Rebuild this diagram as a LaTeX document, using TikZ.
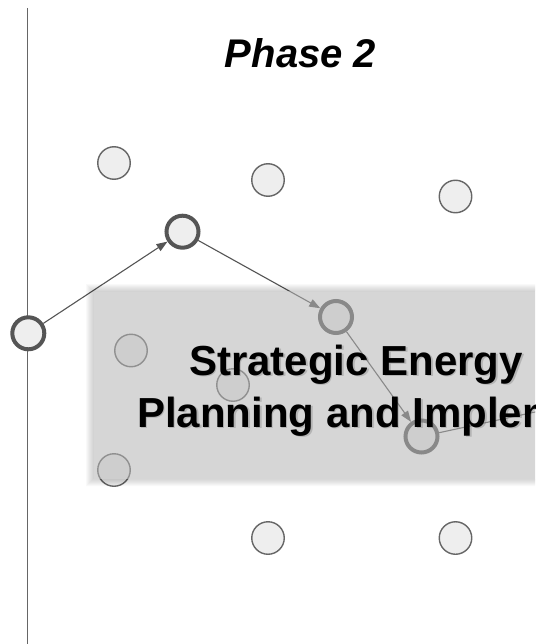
\documentclass[tikz,border=0pt]{standalone}
\usepackage{fontspec}
\setmainfont{Liberation Sans}
\usetikzlibrary{arrows.meta}
\definecolor{ln}{HTML}{666666}
\definecolor{dk}{HTML}{555555}
\definecolor{cf}{HTML}{EEEEEE}
\definecolor{bx}{HTML}{B4B4B4}
\begin{document}
\begin{tikzpicture}[x=1pt,y=-1pt,
  dot/.style={circle,draw=ln,fill=cf,line width=1.4pt,minimum size=32.5pt,inner sep=0pt},
  bigdot/.style={circle,draw=dk,fill=cf,line width=4pt,minimum size=32pt,inner sep=0pt},
  link/.style={draw=dk,line width=1.1pt,-{Triangle[length=11pt,width=8pt]}},
  plain/.style={draw=dk,line width=1.1pt},
  title/.style={font=\fontsize{40}{46}\selectfont\bfseries\itshape,inner sep=0pt,anchor=base},
  label/.style={font=\fontsize{42}{50}\selectfont\bfseries,inner sep=0pt,anchor=base west}]
\useasboundingbox (0,0) rectangle (535,644);
\clip (0,0) rectangle (535,644);
% axis
\coordinate (ax0) at (27.5,8);
\coordinate (ax1) at (27.5,650);
\draw[ln,line width=1.6pt] (ax0) -- (ax1);
% title
\node[title] (ph) at (300.5,68) {Phase 2};
% plain dots
\node[dot] (d1) at (114,163) {};
\node[dot] (d2) at (268,180) {};
\node[dot] (d3) at (455.5,196.5) {};
\node[dot] (d4) at (131,350.5) {};
\node[dot] (d5) at (233,385) {};
\node[dot] (d6) at (114,470) {};
\node[dot] (d7) at (268,538) {};
\node[dot] (d8) at (455.5,538) {};
% path dots
\node[bigdot] (b1) at (28.3,333.3) {};
\node[bigdot] (b2) at (182.5,231.7) {};
\node[bigdot] (b3) at (336,317) {};
\node[bigdot] (b4) at (421.5,436.5) {};
\coordinate (bout) at (600,398);
\draw[link] (b1) -- (b2);
\draw[link] (b2) -- (b3);
\draw[link] (b3) -- (b4);
\draw[plain] (b4) -- (bout);
% shadow of the box
\foreach \i in {1,...,7}{
  \fill[black,opacity=0.022,even odd rule] (93-\i,291-\i) rectangle (600,479+\i) (93,291) rectangle (600,479);
}
% translucent box
\fill[bx,opacity=0.55] (93,291) rectangle (600,479);
% text shadow
\node[label,text=black!60,opacity=0.3] (s1) at (190.5,376.5) {Strategic Energy};
\node[label,text=black!60,opacity=0.3] (s2) at (138.5,428.5) {Planning and Implementation};
% text
\node[label] (t1) at (189,375) {Strategic Energy};
\node[label] (t2) at (137,427) {Planning and Implementation};
\end{tikzpicture}
\end{document}
